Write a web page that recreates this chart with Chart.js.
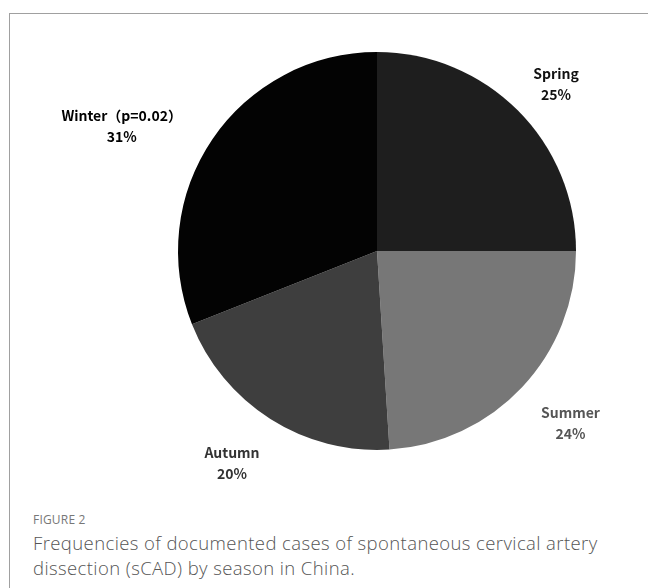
<!DOCTYPE html>
<html>
<head>
<meta charset="utf-8">
<script src="https://cdn.jsdelivr.net/npm/chart.js@4/dist/chart.umd.min.js"></script>
<style>
    body { margin: 0; background: #fff; }
    .wrap { position: relative; width: 648px; height: 588px; overflow: hidden; }
    .frame { position: absolute; left: 9px; top: 13px; width: 700px; height: 600px;
        border-top: 1px solid #a0a0a0; border-left: 1px solid #a0a0a0; }
    #seasonChart { position: absolute; left: 0; top: 0; }
    .fig { position: absolute; left: 33px; top: 511px; font-family: "Open Sans", sans-serif;
        font-size: 12px; color: #777; letter-spacing: 0.2px; }
    .caption { position: absolute; left: 33px; top: 530px; width: 575px; font-family: "Open Sans", sans-serif;
        font-size: 18.5px; line-height: 25px; letter-spacing: 0.4px; color: #555; font-weight: 300; }
</style>
</head>
<body>
<div class="wrap">
    <div class="frame"></div>
    <canvas id="seasonChart" width="648" height="500"></canvas>
    <div class="fig">FIGURE 2</div>
    <div class="caption">Frequencies of documented cases of spontaneous cervical artery dissection (sCAD) by season in China.</div>
</div>
<script>
const seasons = ['Spring', 'Summer', 'Autumn', 'Winter'];
const seasonNames = ['Spring', 'Summer', 'Autumn', 'Winter\uFF08p=0.02\uFF09'];
const percents = [25, 24, 20, 31];
const sliceColors = ['#1e1e1e', '#777777', '#3e3e3e', '#030303'];

// label placement: angle shift (deg) from slice middle, distance as factor of radius
const labelShift = [2, -1.6, 2, -8];
const labelDist = [1.23, 1.30, 1.29, 1.43];
const labelColors = ['#111', '#555', '#333', '#000'];

const outsideLabels = {
    id: 'outsideLabels',
    afterDatasetsDraw(chart) {
        const ctx = chart.ctx;
        const arcs = chart.getDatasetMeta(0).data;
        ctx.save();
        ctx.textAlign = 'center';
        ctx.textBaseline = 'middle';
        ctx.font = 'bold 14px "Noto Sans CJK SC", "Noto Sans", sans-serif';
        arcs.forEach((arc, i) => {
            const mid = (arc.startAngle + arc.endAngle) / 2 + labelShift[i] * Math.PI / 180;
            const r = arc.outerRadius * labelDist[i];
            const x = arc.x + Math.cos(mid) * r;
            const y = arc.y + Math.sin(mid) * r;
            ctx.fillStyle = labelColors[i];
            ctx.fillText(seasonNames[i], x, y - 10);
            ctx.fillText(percents[i] + '%', x, y + 11);
        });
        ctx.restore();
    },
};

const seasonChart = new Chart(document.getElementById('seasonChart'), {
    type: 'pie',
    data: {
        labels: seasons,
        datasets: [
            {
                data: percents,
                backgroundColor: sliceColors,
                borderWidth: 0,
            },
        ],
    },
    options: {
        responsive: false,
        animation: false,
        layout: {
            padding: { left: 178, right: 72, top: 52, bottom: 50 },
        },
        plugins: {
            legend: { display: false },
            tooltip: { enabled: false },
        },
    },
    plugins: [outsideLabels],
});
</script>
</body>
</html>
